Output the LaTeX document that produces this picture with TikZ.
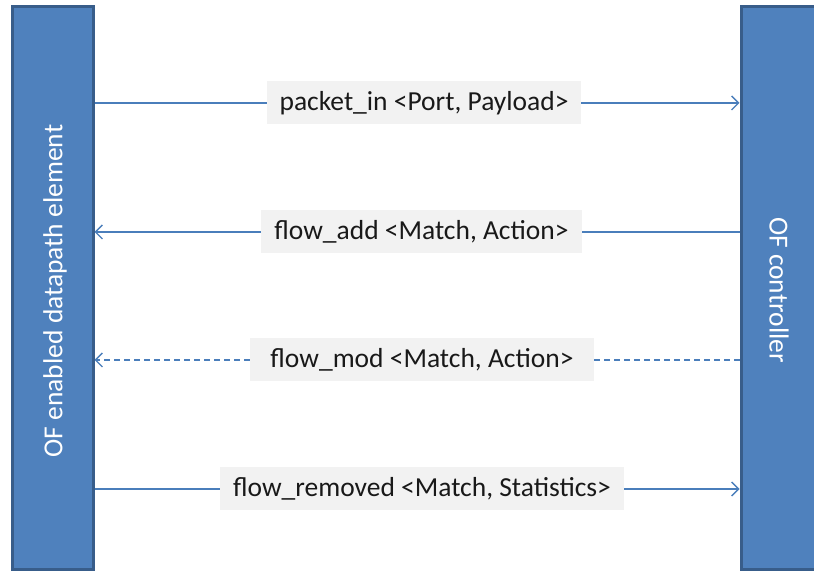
\documentclass[tikz,border=0pt]{standalone}
\usepackage{fontspec}
\setmainfont{Carlito}
\usepackage{xcolor}
\definecolor{barblue}{HTML}{4F81BD}
\definecolor{bardark}{HTML}{385D8A}
\definecolor{msgline}{HTML}{4A7EBB}
\definecolor{msgfill}{HTML}{F2F2F2}
\usetikzlibrary{arrows.meta,backgrounds}

\begin{document}
\begin{tikzpicture}[x=1pt,y=1pt,
		bar/.style={draw=bardark, line width=3pt, fill=barblue, minimum width=81pt, minimum height=563pt, inner sep=0pt},
		bartext/.style={text=white, font=\fontsize{27.5}{32}\selectfont},
		msg/.style={fill=msgfill, minimum height=43pt, inner xsep=13pt, font=\fontsize{27.5}{32}\selectfont, text=black!90},
		link/.style={draw=msgline, line width=1.4pt, -{Straight Barb[length=7pt,width=14pt]}},
		dashlink/.style={link, dash pattern=on 6pt off 4pt}]
		\useasboundingbox (0,0) rectangle (814,572);
		\node[bar] (dp) at (52.5,283.5) {};
		\node[bar] (ctrl) at (781.5,283.5) {};
		\node[bartext, rotate=90] at (55,281) {OF enabled datapath element};
		\node[bartext, rotate=-90] at (779,282) {OF controller};
		\node[msg] (pin) at (424,469) {packet\_in <Port, Payload>};
		\node[msg] (fadd) at (421.5,340) {flow\_add <Match, Action>};
		\node[msg, minimum width=344pt] (fmod) at (422,212) {flow\_mod <Match, Action>\hspace{12pt}};
		\node[msg] (frem) at (422,83) {flow\_removed <Match, Statistics>};
		\begin{scope}[on background layer]
			\draw[link] (dp.east |- pin) -- (ctrl.west |- pin);
			\draw[link] (ctrl.west |- fadd) -- (dp.east |- fadd);
			\draw[dashlink] (ctrl.west |- fmod) -- (dp.east |- fmod);
			\draw[link] (dp.east |- frem) -- (ctrl.west |- frem);
		\end{scope}
	\end{tikzpicture}
\end{document}
